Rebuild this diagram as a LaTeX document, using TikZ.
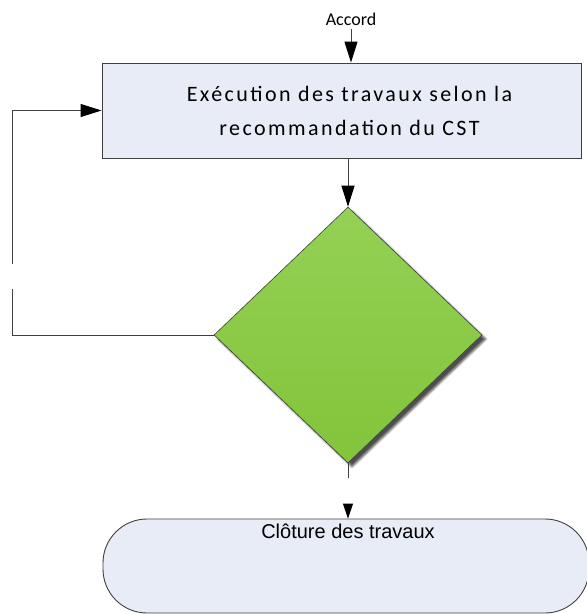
\documentclass[tikz,border=0pt]{standalone}
\usepackage{fontspec}
\setmainfont{Liberation Sans}
\newfontfamily\calib[LetterSpace=11]{Carlito}
\newfontfamily\calibplain{Carlito}
\usetikzlibrary{arrows.meta,shapes.geometric,shadows.blur}
\definecolor{boxfill}{HTML}{E8ECF7}
\definecolor{edge}{HTML}{404040}
\definecolor{greentop}{HTML}{94D155}
\definecolor{greenbot}{HTML}{82C43A}
\tikzset{
  conn/.style={draw=edge, line width=0.9pt},
  arr/.style={conn, -{Triangle[length=21pt,width=13pt,color=black]}},
  arrsmall/.style={conn, -{Triangle[length=15pt,width=10pt,color=black]}},
  taskbox/.style={draw=edge, line width=0.9pt, fill=boxfill, rectangle,
    minimum width=479pt, minimum height=95pt, inner sep=0pt, align=center,
    font=\calib\fontsize{22}{34}\selectfont},
  decision/.style={draw=edge, line width=0.6pt, diamond, inner sep=0pt,
    minimum width=268pt, minimum height=256pt, top color=greentop, bottom color=greenbot,
    blur shadow={shadow xshift=4pt, shadow yshift=-4pt, shadow blur steps=4, shadow opacity=70}},
  terminal/.style={draw=edge, line width=0.9pt, fill=boxfill, rectangle, rounded corners=44pt,
    minimum width=486pt, minimum height=94pt, inner sep=0pt}
}
\begin{document}
\begin{tikzpicture}[x=1pt, y=-1pt]
  \useasboundingbox (0,0) rectangle (587,614);

  % start label and main task
  \node[font=\calibplain\fontsize{18}{20}\selectfont, anchor=base] (accord) at (351,25) {Accord};
  \node[taskbox] (exec) at (341.5,110.5) {\hspace*{16pt}Exécution des travaux selon la\\\hspace*{16pt}recommandation du CST};

  % decision
  \node[decision] (dec) at (348,335) {};

  % end terminal
  \node[terminal] (fin) at (346,566) {};
  \node[font=\fontsize{20}{22}\selectfont, anchor=base] (finlbl) at (348,538) {Clôture des travaux};

  % flow
  \draw[arr] (accord.south |- 0,29) -- (exec.north -| accord.south);
  \draw[arr] (exec.south -| dec.north) -- (dec.north);

  % loop back to the task
  \coordinate (lb) at (12,335);
  \coordinate (lgap1) at (12,289);
  \coordinate (lgap2) at (12,264);
  \draw[conn] (dec.west) -- (lb) -- (lgap1);
  \draw[arr] (lgap2) -- (12,110.5) -- (exec.west);

  % exit to the end terminal
  \coordinate (out1) at (348,478);
  \coordinate (out2) at (348,504);
  \draw[conn] (dec.south) -- (out1);
  \draw[arrsmall] (out2) -- (fin.north -| out2);
\end{tikzpicture}
\end{document}
